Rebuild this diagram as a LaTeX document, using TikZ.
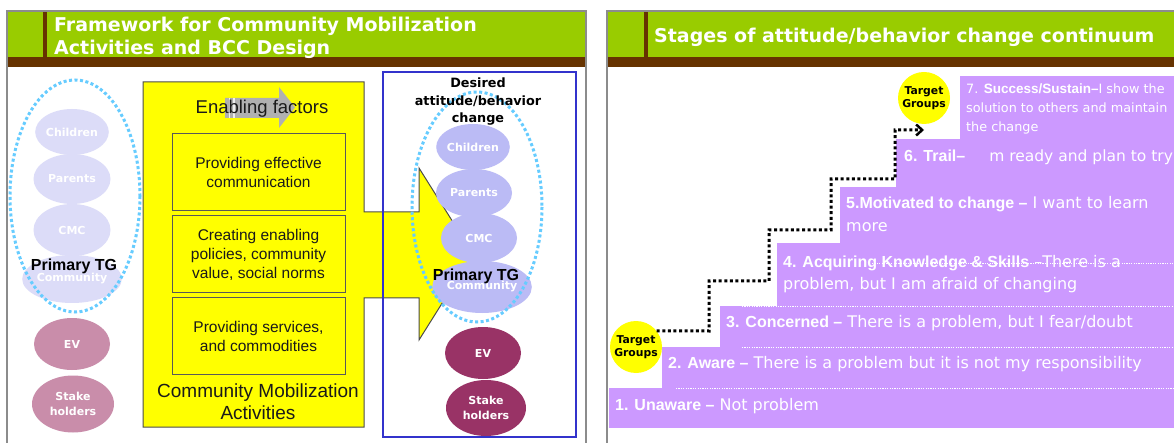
\documentclass[tikz,border=0pt]{standalone}
\usepackage{fontspec}
\setmainfont{Liberation Sans}
\newfontfamily\dv{DejaVu Sans}
\newcommand\stb[1]{{\rmfamily\bfseries #1}}
\usetikzlibrary{shapes.geometric,arrows.meta}
\definecolor{hgreen}{HTML}{99CC00}
\definecolor{hbrown}{HTML}{663300}
\definecolor{hgray}{HTML}{8C8C8C}
\definecolor{stepc}{HTML}{CC99FF}
\definecolor{lav}{HTML}{BBBBF5}
\definecolor{lavfade}{HTML}{DCDCF8}
\definecolor{plum}{HTML}{993366}
\definecolor{plumfade}{HTML}{C98DAA}
\definecolor{dotblue}{HTML}{66CCFF}
\definecolor{boxblue}{HTML}{3333CC}
\definecolor{arrgray}{HTML}{B0B0B0}
\definecolor{tyellow}{HTML}{FFFF00}
\definecolor{darktxt}{HTML}{1A1A1A}
\begin{document}
\begin{tikzpicture}[x=1pt,y=-1pt,
  frame/.style={draw=hgray,line width=2pt},
  ttl/.style={text=white,font=\dv\bfseries\fontsize{19}{23}\selectfont,align=left,anchor=west,inner sep=0pt},
  ell/.style={ellipse,inner sep=0pt,text=white,font=\dv\bfseries\fontsize{11}{15}\selectfont,align=center},
  ptg/.style={font=\bfseries\fontsize{16}{18}\selectfont,text=black,inner sep=0pt},
  dotell/.style={draw=dotblue,line width=3pt,dash pattern=on 3pt off 2.5pt},
  yshape/.style={fill=tyellow,draw=black!70,line width=1pt},
  ibox/.style={rectangle,fill=tyellow,draw=black!65,line width=1pt,align=center,text=darktxt,font=\fontsize{15.5}{19}\selectfont,inner sep=0pt},
  btxt/.style={text=darktxt,align=center,inner sep=0pt},
  stxt/.style={text=white,font=\dv\fontsize{16}{22}\selectfont,anchor=west,inner sep=0pt,align=left},
  tgc/.style={circle,fill=tyellow,inner sep=0pt,minimum size=52pt,align=center,font=\dv\bfseries\fontsize{10.8}{13}\selectfont,text=black},
  sep/.style={draw=white,line width=0.8pt,dash pattern=on 1.2pt off 1.2pt},
  stair/.style={draw=black,line width=3pt,dash pattern=on 3pt off 2.6pt},
]
\useasboundingbox (0,0) rectangle (1174,443);
\fill[white] (0,0) rectangle (1174,443);

% ---------- left panel frame ----------
\fill[hgreen] (8,12) rectangle (585,57);
\fill[hbrown] (8,57) rectangle (585,67);
\fill[hbrown] (43,12) rectangle (47,57);
\draw[frame] (7,443) -- (7,11) -- (586,11) -- (586,443);
\node[ttl] (t1) at (54,38) {Framework for Community Mobilization\\Activities and BCC Design};

% ---------- right panel frame ----------
\fill[hgreen] (608,12) rectangle (1174,57);
\fill[hbrown] (608,57) rectangle (1174,67);
\fill[hbrown] (644,12) rectangle (648,57);
\draw[frame] (607,443) -- (607,11) -- (1174,11);
\node[ttl] (t2) at (654,37.5) {Stages of attitude/behavior change continuum};

% ---------- left column (faded) ----------
\node[ell,fill=lavfade,minimum width=72pt,minimum height=46pt] (lc1) at (72,132) {Children};
\node[ell,fill=lavfade,minimum width=77pt,minimum height=50pt] (lc2) at (72,179) {Parents};
\node[ell,fill=lavfade,minimum width=77pt,minimum height=52pt] (lc3) at (72,230) {CMC};
\node[ell,fill=lavfade,minimum width=76pt,minimum height=48pt] (lc4) at (72,279) {Community};
\draw[dotell] (75,196) ellipse [x radius=65, y radius=116];
\node[ptg] (lptg) at (74,266) {Primary TG};
\node[ell,fill=plumfade,minimum width=76pt,minimum height=52pt] (lev) at (72,344) {EV};
\node[ell,fill=plumfade,minimum width=82pt,minimum height=57pt] (lsh) at (73,404) {Stake\\holders};

% ---------- yellow activities shape ----------
\draw[yshape] (143,82) -- (364,82) -- (364,212) -- (419,212) -- (419,168) -- (473,254)
  -- (419,340) -- (419,298) -- (364,298) -- (364,427) -- (143,427) -- cycle;
\fill[arrgray] (225,98) -- (279,98) -- (279,87) -- (295,107.5) -- (279,128) -- (279,118) -- (225,118) -- cycle;
\fill[white!80!arrgray] (228.5,98) rectangle (230,118);
\fill[white!80!arrgray] (233,98) rectangle (234.5,118);
\node[btxt,font=\fontsize{18.5}{22}\selectfont] (ef) at (262,109) {Enabling factors};
\node[ibox,minimum width=173pt,minimum height=77pt] (b1) at (258.5,172.5) {Providing effective\\communication};
\node[ibox,minimum width=173pt,minimum height=77pt] (b2) at (258.5,254.5) {Creating enabling\\policies, community\\value, social norms};
\node[ibox,minimum width=173pt,minimum height=76pt] (b3) at (258.5,336) {Providing services,\\and commodities};
\node[btxt,font=\fontsize{19}{22}\selectfont] (cma) at (258,402) {Community Mobilization\\Activities};

% ---------- desired change box ----------
\draw[boxblue,line width=2.5pt] (383,72) rectangle (576,437);
\node[ell,fill=lav,minimum width=72pt,minimum height=46pt] (rc1) at (473,147) {Children};
\node[ell,fill=lav,minimum width=76pt,minimum height=48pt] (rc2) at (474,193) {Parents};
\node[ell,fill=lav,minimum width=76pt,minimum height=50pt] (rc3) at (479,238) {CMC};
\node[ell,fill=lav,minimum width=70pt,minimum height=52pt] (rc4) at (482,287) {Community};
\draw[dotell] (477,207) ellipse [x radius=65, y radius=115];
\node[btxt,text=black,font=\dv\bfseries\fontsize{12.8}{17.5}\selectfont] (des) at (478,102) {Desired\\attitude/behavior\\change};
\node[ptg] (rptg) at (476,276) {Primary TG};
\node[ell,fill=plum,minimum width=76pt,minimum height=52pt] (rev) at (483,353) {EV};
\node[ell,fill=plum,minimum width=80pt,minimum height=56pt] (rsh) at (486,408) {Stake\\holders};

% ---------- stairs ----------
\fill[stepc] (609,388) rectangle (1174,428);
\fill[stepc] (662,347) rectangle (1174,388);
\fill[stepc] (720,306) rectangle (1174,347);
\fill[stepc] (777,243) rectangle (1174,306);
\fill[stepc] (840,187) rectangle (1174,243);
\fill[stepc] (896,139) rectangle (1174,187);
\fill[stepc] (960,76) rectangle (1174,139);
\draw[sep] (676,388) -- (1174,388);
\draw[sep] (742,347) -- (1174,347);
\draw[sep] (742,306) -- (1174,306);
\draw[sep] (872,263) -- (1174,263);

\node[stxt] (s1) at (615,406) {\stb{1. Unaware –} Not problem};
\node[stxt] (s2) at (668,364) {\stb{2. Aware –} There is a problem but it is not my responsibility};
\node[stxt] (s3) at (726,323) {\stb{3. Concerned –} There is a problem, but I fear/doubt};
\node[stxt] (s4a) at (783,263) {\stb{4. Acquiring Knowledge \& Skills} –There is a};
\node[stxt] (s4b) at (783,285) {problem, but I am afraid of changing};
\node[stxt] (s5a) at (846,204) {\stb{5.Motivated to change –} I want to learn};
\node[stxt] (s5b) at (846,227) {more};
\node[stxt,font=\dv\fontsize{15.5}{22}\selectfont] (s6) at (904,157) {\stb{\fontsize{16}{22}\selectfont 6. Trail–}\hspace{24pt}m ready and plan to try};
\node[stxt,font=\dv\fontsize{12.8}{19}\selectfont,anchor=north west] (s7) at (966,84) {7. \stb{\fontsize{13.5}{19}\selectfont Success/Sustain–}I show the\\solution to others and maintain\\the change};

\node[tgc] (tg1) at (636,347) {Target\\Groups};
\node[tgc] (tg2) at (924,98) {Target\\Groups};
\coordinate (tgend) at (924,130);
\draw[stair,-{Straight Barb[length=6pt,width=11pt,line width=2.5pt]}] (tg1.38) -- (709,331) -- (709,281) -- (769,281) -- (769,230) -- (831,230) -- (831,179) -- (895,179) -- (895,130) -- (tgend);
\end{tikzpicture}
\end{document}
